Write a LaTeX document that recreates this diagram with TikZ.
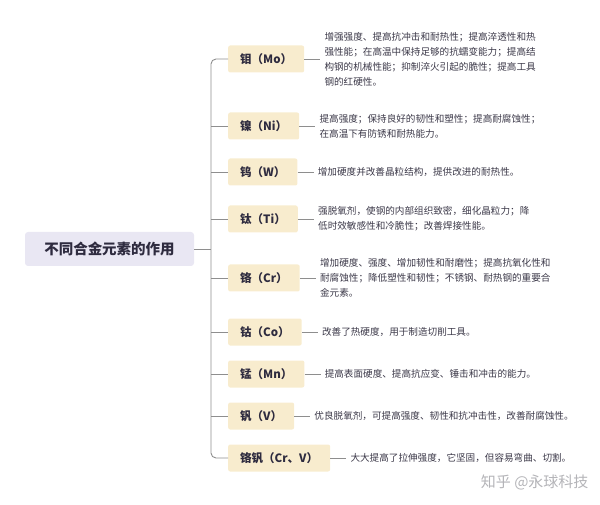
\documentclass[tikz,border=0pt]{standalone}
\usepackage{fontspec}
\setmainfont{Noto Sans CJK SC}
\usetikzlibrary{positioning}
\definecolor{rootfill}{HTML}{E9E7F3}
\definecolor{elemfill}{HTML}{F8ECCE}
\definecolor{linegray}{HTML}{8E8E8E}
\definecolor{txtdark}{HTML}{2E2B3F}
\definecolor{desctext}{HTML}{3B3848}
\definecolor{wmgray}{HTML}{B4B4B8}
\begin{document}
\begin{tikzpicture}[x=1pt,y=-1pt,
    root node/.style={fill=rootfill,rounded corners=3pt,minimum width=169pt,minimum height=34pt,
                      text=txtdark,font=\bfseries\fontsize{14.5}{16}\selectfont},
    elem node/.style={fill=elemfill,rounded corners=2pt,minimum height=27pt,inner xsep=12pt,anchor=west,
                      text=txtdark,font=\bfseries\fontsize{11.5}{13}\selectfont},
    desc node/.style={align=left,inner sep=1pt,text=desctext,font=\fontsize{9.6}{15}\selectfont},
    link/.style={draw=linegray,line width=0.9pt}]
  \useasboundingbox (0,0) rectangle (600,505);

  \node[root node] (root) at (109.5,249) {不同合金元素的作用};
  \coordinate (hub) at (211,249);

  \node[elem node] (mo) at (228,59) {钼（Mo）};
  \node[elem node] (ni) at (228,126) {镍（Ni）};
  \node[elem node] (w) at (228,172) {钨（W）};
  \node[elem node] (ti) at (228,219) {钛（Ti）};
  \node[elem node] (cr) at (228,278) {铬（Cr）};
  \node[elem node] (co) at (228,332) {钴（Co）};
  \node[elem node] (mn) at (228,374) {锰（Mn）};
  \node[elem node] (v) at (228,416) {钒（V）};
  \node[elem node] (crv) at (228,458) {铬钒（Cr、V）};

  \node[desc node, right=19pt of mo] (mo-d) {增强强度、提高抗冲击和耐热性；提高淬透性和热\\强性能；在高温中保持足够的抗蠕变能力；提高结\\构钢的机械性能；抑制淬火引起的脆性；提高工具\\钢的红硬性。};
  \node[desc node, right=19pt of ni] (ni-d) {提高强度；保持良好的韧性和塑性；提高耐腐蚀性；\\在高温下有防锈和耐热能力。};
  \node[desc node, right=19pt of w] (w-d) {增加硬度并改善晶粒结构，提供改进的耐热性。};
  \node[desc node, right=19pt of ti] (ti-d) {强脱氧剂，使钢的内部组织致密，细化晶粒力；降\\低时效敏感性和冷脆性；改善焊接性能。};
  \node[desc node, right=19pt of cr] (cr-d) {增加硬度、强度、增加韧性和耐磨性；提高抗氧化性和\\耐腐蚀性；降低塑性和韧性；不锈钢、耐热钢的重要合\\金元素。};
  \node[desc node, right=19pt of co] (co-d) {改善了热硬度，用于制造切削工具。};
  \node[desc node, right=19pt of mn] (mn-d) {提高表面硬度、提高抗应变、锤击和冲击的能力。};
  \node[desc node, right=19pt of v] (v-d) {优良脱氧剂，可提高强度、韧性和抗冲击性，改善耐腐蚀性。};
  \node[desc node, right=19pt of crv] (crv-d) {大大提高了拉伸强度，它坚固，但容易弯曲、切割。};

  % tree lines
  \draw[link] (root.east) -- (hub);
  \draw[link,rounded corners=5pt] (mo.west) -| (hub) |- (crv.west);
  \foreach \n in {ni,w,ti,cr,co,mn,v}
    \draw[link] (hub |- \n.west) -- (\n.west);
  \foreach \n in {mo,ni,w,ti,cr,co,mn,v,crv}
    \draw[link,shorten >=3pt] (\n.east) -- (\n-d.west);

  \node[anchor=east,text=wmgray,font=\fontsize{15}{15}\selectfont] (wm) at (592,482) {知乎 @永球科技};
\end{tikzpicture}
\end{document}
